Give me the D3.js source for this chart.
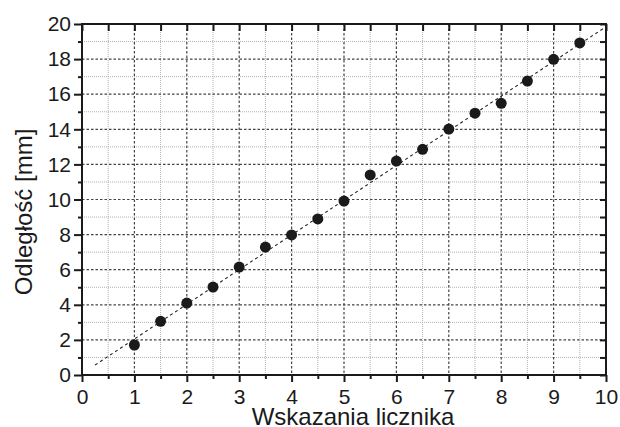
<!DOCTYPE html>
<html>
<head>
<meta charset="utf-8">
<script src="https://cdn.jsdelivr.net/npm/d3@7"></script>
<style>
  html, body { margin: 0; padding: 0; background: #fff; }
  svg { display: block; font-family: "Liberation Sans", Arial, sans-serif; }
</style>
</head>
<body>
<svg id="chart" width="620" height="427"></svg>
<script>
// Measurements: counter reading vs. distance
const readings = [1, 1.5, 2, 2.5, 3, 3.5, 4, 4.5, 5, 5.5, 6, 6.5, 7, 7.5, 8, 8.5, 9, 9.5];
const distances = [1.71, 3.06, 4.10, 5.01, 6.15, 7.29, 7.98, 8.89, 9.91, 11.40, 12.19, 12.86, 14.01, 14.92, 15.48, 16.75, 17.99, 18.92];

// Fitted straight line drawn across the range
const fitRange = [0.25, 9.95];
const fitSlope = 1.977;
const fitIntercept = 0.076;

const xTicks = [0, 1, 2, 3, 4, 5, 6, 7, 8, 9, 10];
const yTicks = [0, 2, 4, 6, 8, 10, 12, 14, 16, 18, 20];
const xMinor = d3.range(0.5, 10, 1);
const yMinor = d3.range(1, 20, 2);

const xTitle = "Wskazania licznika";
const yTitle = "Odległość [mm]";

const svg = d3.select("#chart");
const plotLeft = 82, plotRight = 606, plotTop = 24, plotBottom = 375;
const ink = "#1a1a1a";

const x = d3.scaleLinear().domain([0, 10]).range([plotLeft, plotRight]);
const y = d3.scaleLinear().domain([0, 20]).range([plotBottom, plotTop]);

// Minor grid (dotted, light)
const grid = svg.append("g");
grid.selectAll(".vminor").data(xMinor).join("line")
  .attr("x1", d => x(d)).attr("x2", d => x(d)).attr("y1", plotTop).attr("y2", plotBottom)
  .attr("stroke", "#b0b0b0").attr("stroke-width", 1).attr("stroke-dasharray", "1,1");
grid.selectAll(".hminor").data(yMinor).join("line")
  .attr("x1", plotLeft).attr("x2", plotRight).attr("y1", d => y(d)).attr("y2", d => y(d))
  .attr("stroke", "#b0b0b0").attr("stroke-width", 1).attr("stroke-dasharray", "1,1");

// Major grid (dashed, dark)
grid.selectAll(".vmajor").data(xTicks.slice(1, -1)).join("line")
  .attr("x1", d => x(d)).attr("x2", d => x(d)).attr("y1", plotTop).attr("y2", plotBottom)
  .attr("stroke", "#444").attr("stroke-width", 1.2).attr("stroke-dasharray", "2.5,2");
grid.selectAll(".hmajor").data(yTicks.slice(1, -1)).join("line")
  .attr("x1", plotLeft).attr("x2", plotRight).attr("y1", d => y(d)).attr("y2", d => y(d))
  .attr("stroke", "#444").attr("stroke-width", 1.2).attr("stroke-dasharray", "2.5,2");

// Fitted line
const fitLine = d3.line().x(d => x(d)).y(d => y(fitIntercept + fitSlope * d));
svg.append("path")
  .attr("d", fitLine(fitRange))
  .attr("fill", "none").attr("stroke", "#222").attr("stroke-width", 1.1)
  .attr("stroke-dasharray", "3,3");

// Data points
svg.append("g").selectAll("circle").data(readings).join("circle")
  .attr("cx", d => x(d))
  .attr("cy", (d, i) => y(distances[i]))
  .attr("r", 5.5)
  .attr("fill", ink);

// Axes
const tickFont = g => g.selectAll("text")
  .attr("font-size", 21).attr("fill", ink)
  .attr("font-family", '"Liberation Sans", Arial, sans-serif');
const styleAxis = g => {
  g.select(".domain").remove();
  g.selectAll(".tick line").attr("stroke", ink).attr("stroke-width", 2);
};

svg.append("g").attr("transform", `translate(0,${plotBottom})`)
  .call(d3.axisBottom(x).tickValues(xTicks).tickFormat(d3.format("d")).tickSize(7).tickPadding(7))
  .call(styleAxis).call(tickFont);
svg.append("g").attr("transform", `translate(0,${plotBottom})`)
  .call(d3.axisBottom(x).tickValues(xMinor).tickFormat("").tickSize(4))
  .call(styleAxis);

svg.append("g").attr("transform", `translate(${plotLeft},0)`)
  .call(d3.axisLeft(y).tickValues(yTicks).tickFormat(d3.format("d")).tickSize(8).tickPadding(3))
  .call(styleAxis).call(tickFont);
svg.append("g").attr("transform", `translate(${plotLeft},0)`)
  .call(d3.axisLeft(y).tickValues(yMinor).tickFormat("").tickSize(4))
  .call(styleAxis);

svg.append("g").attr("transform", `translate(0,${plotTop})`)
  .call(d3.axisBottom(x).tickValues(xTicks.concat(xMinor)).tickFormat("").tickSize(7))
  .call(styleAxis);
svg.append("g").attr("transform", `translate(${plotRight},0)`)
  .call(d3.axisLeft(y).tickValues(yTicks.concat(yMinor)).tickFormat("").tickSize(6))
  .call(styleAxis);

// Frame
svg.append("rect")
  .attr("x", plotLeft).attr("y", plotTop)
  .attr("width", plotRight - plotLeft).attr("height", plotBottom - plotTop)
  .attr("fill", "none").attr("stroke", ink).attr("stroke-width", 2);

// Axis titles
svg.append("text")
  .attr("x", 353).attr("y", 425)
  .attr("text-anchor", "middle").attr("font-size", 24).attr("fill", ink)
  .text(xTitle);
svg.append("text")
  .attr("transform", "translate(32,212) rotate(-90)")
  .attr("text-anchor", "middle").attr("font-size", 24).attr("fill", ink)
  .text(yTitle);
</script>
</body>
</html>
